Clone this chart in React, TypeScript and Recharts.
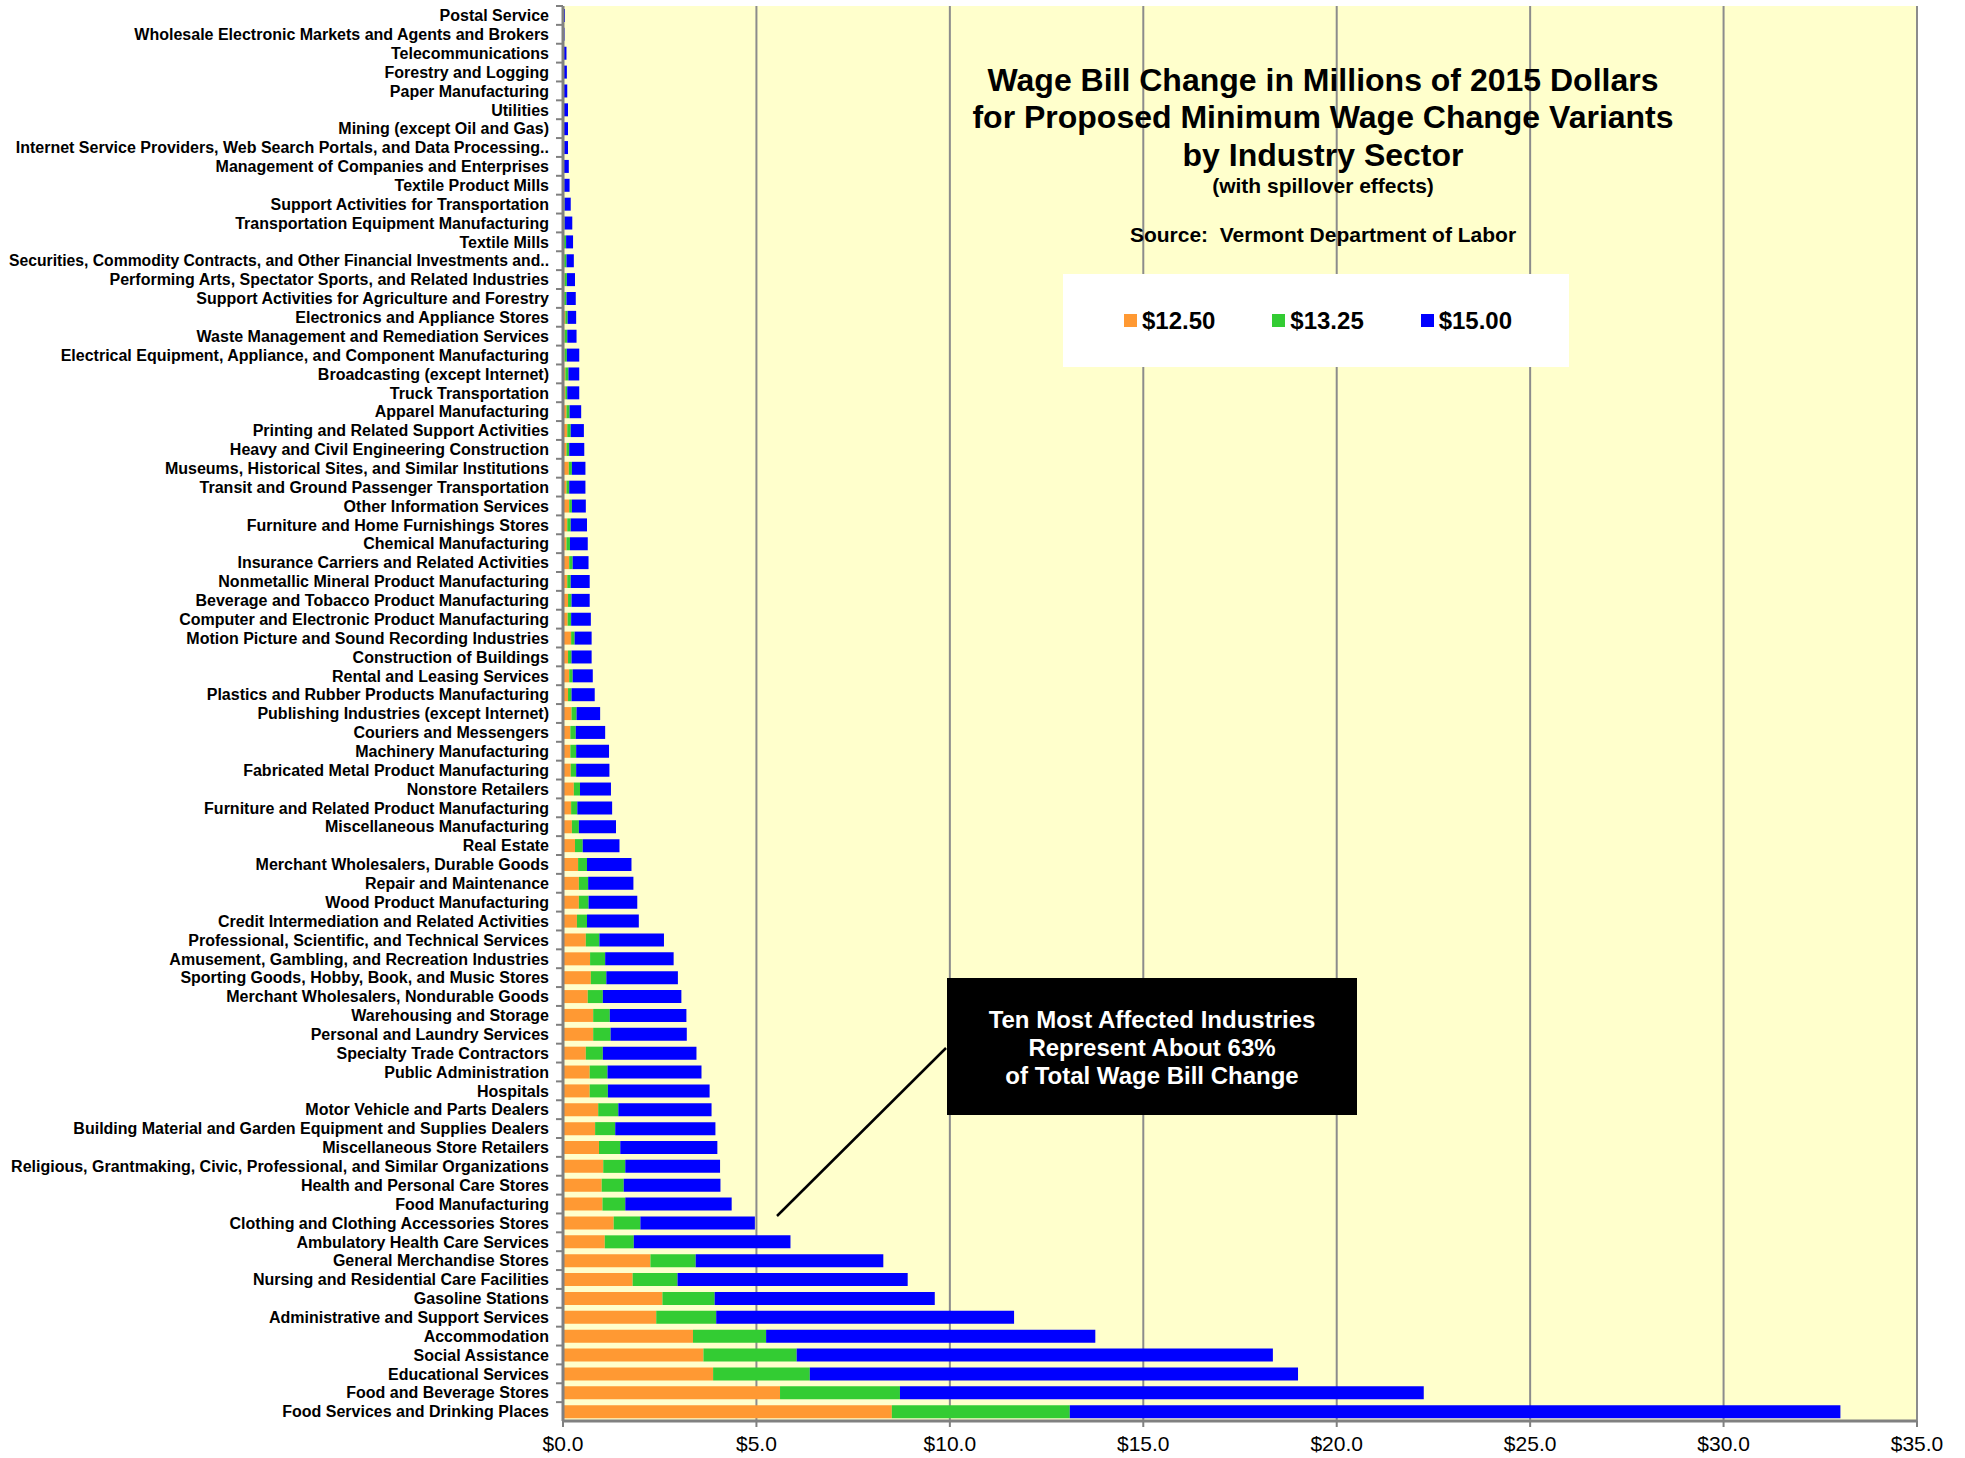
import { BarChart, Bar, XAxis, YAxis, CartesianGrid, Legend } from "recharts";

const industries = [
  "Postal Service",
  "Wholesale Electronic Markets and Agents and Brokers",
  "Telecommunications",
  "Forestry and Logging",
  "Paper Manufacturing",
  "Utilities",
  "Mining (except Oil and Gas)",
  "Internet Service Providers, Web Search Portals, and Data Processing..",
  "Management of Companies and Enterprises",
  "Textile Product Mills",
  "Support Activities for Transportation",
  "Transportation Equipment Manufacturing",
  "Textile Mills",
  "Securities, Commodity Contracts, and Other Financial Investments and..",
  "Performing Arts, Spectator Sports, and Related Industries",
  "Support Activities for Agriculture and Forestry",
  "Electronics and Appliance Stores",
  "Waste Management and Remediation Services",
  "Electrical Equipment, Appliance, and Component Manufacturing",
  "Broadcasting (except Internet)",
  "Truck Transportation",
  "Apparel Manufacturing",
  "Printing and Related Support Activities",
  "Heavy and Civil Engineering Construction",
  "Museums, Historical Sites, and Similar Institutions",
  "Transit and Ground Passenger Transportation",
  "Other Information Services",
  "Furniture and Home Furnishings Stores",
  "Chemical Manufacturing",
  "Insurance Carriers and Related Activities",
  "Nonmetallic Mineral Product Manufacturing",
  "Beverage and Tobacco Product Manufacturing",
  "Computer and Electronic Product Manufacturing",
  "Motion Picture and Sound Recording Industries",
  "Construction of Buildings",
  "Rental and Leasing Services",
  "Plastics and Rubber Products Manufacturing",
  "Publishing Industries (except Internet)",
  "Couriers and Messengers",
  "Machinery Manufacturing",
  "Fabricated Metal Product Manufacturing",
  "Nonstore Retailers",
  "Furniture and Related Product Manufacturing",
  "Miscellaneous Manufacturing",
  "Real Estate",
  "Merchant Wholesalers, Durable Goods",
  "Repair and Maintenance",
  "Wood Product Manufacturing",
  "Credit Intermediation and Related Activities",
  "Professional, Scientific, and Technical Services",
  "Amusement, Gambling, and Recreation Industries",
  "Sporting Goods, Hobby, Book, and Music Stores",
  "Merchant Wholesalers, Nondurable Goods",
  "Warehousing and Storage",
  "Personal and Laundry Services",
  "Specialty Trade Contractors",
  "Public Administration",
  "Hospitals",
  "Motor Vehicle and Parts Dealers",
  "Building Material and Garden Equipment and Supplies Dealers",
  "Miscellaneous Store Retailers",
  "Religious, Grantmaking, Civic, Professional, and Similar Organizations",
  "Health and Personal Care Stores",
  "Food Manufacturing",
  "Clothing and Clothing Accessories Stores",
  "Ambulatory Health Care Services",
  "General Merchandise Stores",
  "Nursing and Residential Care Facilities",
  "Gasoline Stations",
  "Administrative and Support Services",
  "Accommodation",
  "Social Assistance",
  "Educational Services",
  "Food and Beverage Stores",
  "Food Services and Drinking Places",
];

// wage bill change (millions of 2015 $) for each minimum wage variant
const wage1250 = [
  0.01, 0.01, 0.01, 0.01, 0.01, 0.01, 0.01, 0.01, 0.01, 0.01,
  0.02, 0.02, 0.02, 0.03, 0.04, 0.03, 0.06, 0.04, 0.04, 0.06,
  0.06, 0.09, 0.11, 0.09, 0.15, 0.09, 0.16, 0.11, 0.09, 0.16,
  0.11, 0.13, 0.12, 0.21, 0.13, 0.16, 0.13, 0.22, 0.19, 0.19,
  0.2, 0.28, 0.21, 0.23, 0.31, 0.39, 0.41, 0.41, 0.36, 0.59,
  0.7, 0.72, 0.64, 0.78, 0.78, 0.59, 0.69, 0.69, 0.91, 0.83,
  0.93, 1.04, 1.0, 1.02, 1.31, 1.08, 2.26, 1.8, 2.57, 2.41,
  3.36, 3.63, 3.88, 5.61, 8.5,
];

const wage1325 = [
  0.02, 0.02, 0.02, 0.02, 0.02, 0.02, 0.02, 0.03, 0.02, 0.03,
  0.04, 0.04, 0.08, 0.09, 0.1, 0.09, 0.12, 0.11, 0.1, 0.14,
  0.11, 0.17, 0.2, 0.16, 0.23, 0.16, 0.23, 0.2, 0.18, 0.25,
  0.2, 0.22, 0.21, 0.3, 0.22, 0.25, 0.22, 0.35, 0.33, 0.34,
  0.34, 0.44, 0.37, 0.41, 0.51, 0.62, 0.65, 0.66, 0.62, 0.94,
  1.09, 1.12, 1.03, 1.21, 1.23, 1.03, 1.15, 1.16, 1.43, 1.35,
  1.48, 1.61, 1.57, 1.61, 2.0, 1.83, 3.43, 2.96, 3.92, 3.96,
  5.25, 6.04, 6.38, 8.71, 13.1,
];

const wage1500 = [
  0.05, 0.04, 0.09, 0.1, 0.11, 0.13, 0.13, 0.13, 0.15, 0.17,
  0.2, 0.24, 0.26, 0.28, 0.31, 0.33, 0.34, 0.35, 0.42, 0.42,
  0.42, 0.47, 0.54, 0.55, 0.58, 0.58, 0.59, 0.62, 0.64, 0.66,
  0.69, 0.69, 0.72, 0.74, 0.74, 0.77, 0.82, 0.96, 1.09, 1.19,
  1.2, 1.24, 1.27, 1.37, 1.46, 1.77, 1.82, 1.92, 1.96, 2.61,
  2.86, 2.97, 3.06, 3.19, 3.2, 3.45, 3.58, 3.79, 3.84, 3.94,
  3.99, 4.06, 4.07, 4.36, 4.96, 5.88, 8.28, 8.91, 9.61, 11.66,
  13.76, 18.35, 19.0, 22.25, 33.02,
];

const seriesNames = ["$12.50", "$13.25", "$15.00"];
const seriesColors = ["#FF9933", "#33CC33", "#0000FF"];
const xTicks = [0, 5, 10, 15, 20, 25, 30, 35];

// variants overlap in the original, so stack the increments
const rows = industries.map((name, i) => ({
  name,
  v1: wage1250[i],
  v2: +(wage1325[i] - wage1250[i]).toFixed(2),
  v3: +(wage1500[i] - wage1325[i]).toFixed(2),
}));

const FONT = "'Liberation Sans', Arial, Helvetica, sans-serif";
const W = 1965;
const H = 1458;
const BAND = (1421 - 6) / industries.length;

function CategoryTick(props: any) {
  const { x, y, payload } = props;
  const label: string = payload.value;
  // the one label that would run off the left edge gets squeezed a little
  const squeeze = label.startsWith("Securities") ? { textLength: 540, lengthAdjust: "spacingAndGlyphs" } : {};
  return (
    <g>
      <line x1={x + 7} x2={x + 14} y1={y - BAND / 2} y2={y - BAND / 2} stroke="#808080" strokeWidth={2} />
      <text
        x={x}
        y={y}
        dy="0.36em"
        textAnchor="end"
        fontSize={16}
        fontWeight="bold"
        fill="#000"
        fontFamily={FONT}
        {...squeeze}
      >
        {label}
      </text>
    </g>
  );
}

function LegendBox(props: any) {
  const items = props.payload || [];
  return (
    <div
      style={{
        width: 506,
        height: 93,
        background: "#fff",
        display: "flex",
        alignItems: "center",
        paddingLeft: 61,
        boxSizing: "border-box",
        fontFamily: FONT,
      }}
    >
      {items.map((it: any) => (
        <div key={it.value} style={{ width: 151, display: "flex", alignItems: "center" }}>
          <span style={{ width: 13, height: 13, background: it.color, marginRight: 5, display: "inline-block" }} />
          <span style={{ fontSize: 24, fontWeight: "bold", color: "#000" }}>{it.value}</span>
        </div>
      ))}
    </div>
  );
}

export default function App() {
  return (
    <div style={{ position: "absolute", left: 0, top: 0, width: W, height: H, background: "#fff" }}>
      <BarChart
        width={W}
        height={H}
        data={rows}
        layout="vertical"
        margin={{ top: 6, right: 48, bottom: 0, left: 0 }}
      >
        <CartesianGrid horizontal={false} stroke="#8c8c8c" strokeWidth={2} fill="#FFFFCC" />
        <XAxis
          type="number"
          domain={[0, 35]}
          ticks={xTicks}
          height={37}
          tickFormatter={(v: number) => `$${v.toFixed(1)}`}
          axisLine={{ stroke: "#808080", strokeWidth: 3 }}
          tickLine={{ stroke: "#808080", strokeWidth: 2 }}
          tickSize={6}
          tickMargin={9}
          tick={{ fill: "#000", fontSize: 21, fontFamily: FONT }}
        />
        <YAxis
          type="category"
          dataKey="name"
          width={563}
          interval={0}
          tickLine={false}
          tickSize={7}
          tickMargin={7}
          axisLine={{ stroke: "#808080", strokeWidth: 3 }}
          tick={<CategoryTick />}
        />
        <Legend
          layout="horizontal"
          align="center"
          verticalAlign="middle"
          content={<LegendBox />}
          wrapperStyle={{ left: 1063, top: 274, width: 506, height: 93 }}
        />
        <Bar dataKey="v1" name={seriesNames[0]} stackId="w" fill={seriesColors[0]} barSize={13} isAnimationActive={false} />
        <Bar dataKey="v2" name={seriesNames[1]} stackId="w" fill={seriesColors[1]} barSize={13} isAnimationActive={false} />
        <Bar dataKey="v3" name={seriesNames[2]} stackId="w" fill={seriesColors[2]} barSize={13} isAnimationActive={false} />
      </BarChart>
      <svg
        width={W}
        height={H}
        style={{ position: "absolute", left: 0, top: 0, pointerEvents: "none" }}
        fontFamily={FONT}
        fontWeight="bold"
      >
        <g textAnchor="middle" fill="#000">
          <text x={1323} y={90.5} fontSize={32}>Wage Bill Change in Millions of 2015 Dollars</text>
          <text x={1323} y={128} fontSize={32}>for Proposed Minimum Wage Change Variants</text>
          <text x={1323} y={165.5} fontSize={32}>by Industry Sector</text>
          <text x={1323} y={193} fontSize={21}>(with spillover effects)</text>
          <text x={1323} y={242} fontSize={21} style={{ whiteSpace: "pre" }}>Source:  Vermont Department of Labor</text>
        </g>
        <line x1={777} y1={1216} x2={946} y2={1048} stroke="#000" strokeWidth={2.5} />
        <rect x={947} y={978} width={410} height={137} fill="#000" />
        <g textAnchor="middle" fill="#fff" fontSize={24}>
          <text x={1152} y={1028}>Ten Most Affected Industries</text>
          <text x={1152} y={1056}>Represent About 63%</text>
          <text x={1152} y={1084}>of Total Wage Bill Change</text>
        </g>
      </svg>
    </div>
  );
}
